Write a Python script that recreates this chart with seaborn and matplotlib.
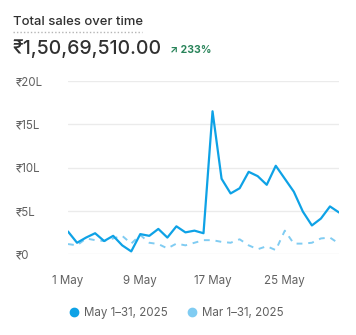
import numpy as np
import pandas as pd
import matplotlib
matplotlib.use("Agg")
import matplotlib.pyplot as plt
import seaborn as sns

# ---- data (values in lakh rupees) ----
days = list(range(1, 32))
current_sales = [2.6, 1.3, 1.9, 2.4, 1.5, 2.1, 1.0, 0.3, 2.3, 2.1,
                 2.9, 1.9, 3.2, 2.5, 2.7, 2.4, 16.5, 8.7, 7.0, 7.6,
                 9.5, 9.0, 8.0, 10.2, 8.7, 7.2, 4.9, 3.3, 4.1, 5.5, 4.8]
previous_sales = [1.15, 1.0, 1.8, 1.6, 1.5, 1.8, 2.1, 1.2, 2.2, 1.3,
                  1.15, 0.65, 1.2, 1.0, 1.3, 1.6, 1.6, 1.4, 1.3, 1.7,
                  1.0, 0.55, 0.9, 0.45, 2.7, 1.2, 1.2, 1.3, 1.8, 1.9, 1.2]
series_names = ["May 1\u201331, 2025", "Mar 1\u201331, 2025"]
y_ticks = [0, 5, 10, 15, 20]
y_tick_labels = ["\u20b90", "\u20b95L", "\u20b910L", "\u20b915L", "\u20b920L"]
x_ticks = [1, 9, 17, 25]
x_tick_labels = ["1 May", "9 May", "17 May", "25 May"]
title = "Total sales over time"
total_text = "\u20b91,50,69,510.00"
change_text = "\u2197 233%"

colors = ["#0ea2e6", "#80ccf2"]

df = pd.DataFrame({
    "day": days * 2,
    "sales": current_sales + previous_sales,
    "series": [series_names[0]] * len(days) + [series_names[1]] * len(days),
})

sns.set_style("white")
plt.rcParams["font.family"] = ["Inter", "DejaVu Sans"]

fig = plt.figure(figsize=(3.56, 3.35), dpi=100)
ax = fig.add_axes([68 / 356, 1 - 254 / 335, 271 / 356, 173 / 335])

sns.lineplot(data=df[df.series == series_names[1]], x="day", y="sales",
             color=colors[1], linewidth=1.4, linestyle=(0, (3, 3)), ax=ax,
             legend=False)
sns.lineplot(data=df[df.series == series_names[0]], x="day", y="sales",
             color=colors[0], linewidth=1.6, ax=ax, legend=False)

ax.set_xlim(1, 31)
ax.set_ylim(0, 20)
ax.set_yticks(y_ticks)
ax.set_yticklabels(y_tick_labels)
ax.set_xticks(x_ticks)
ax.set_xticklabels(x_tick_labels)
ax.set_xlabel("")
ax.set_ylabel("")
for s in ax.spines.values():
    s.set_visible(False)
ax.grid(axis="y", color="#ebebeb", linewidth=1)
ax.grid(axis="x", visible=False)
ax.set_axisbelow(True)
ax.tick_params(axis="both", length=0, colors="#616161", labelsize=8.3)
ax.tick_params(axis="y", pad=38)
for lbl in ax.get_yticklabels():
    lbl.set_horizontalalignment("left")
ax.tick_params(axis="x", pad=15)

# header
fig.text(13 / 356, 1 - 22 / 335, title, fontsize=9.4, fontweight="medium",
         color="#303030", va="center", ha="left")
fig.add_artist(plt.Line2D([13 / 356, 142 / 356], [1 - 32 / 335, 1 - 32 / 335],
                          color="#b5b5b5", linewidth=1, linestyle=(0, (1, 1.5))))
fig.text(12 / 356, 1 - 49 / 335, total_text, fontsize=14, fontweight="medium",
         color="#303030", va="center", ha="left")
fig.text(170 / 356, 1 - 50 / 335, change_text, fontsize=7.5, fontweight="bold",
         color="#29845a", va="center", ha="left")

# legend
handles = [plt.Line2D([], [], marker="o", linestyle="", markersize=6,
                      color=c) for c in colors]
leg = fig.legend(handles, series_names, loc="center", ncol=2,
                 bbox_to_anchor=(176 / 356, 1 - 313 / 335), frameon=False,
                 fontsize=8.3, handletextpad=0.35, columnspacing=1.6,
                 handlelength=1.0)
for t in leg.get_texts():
    t.set_color("#616161")

fig.savefig("out.png", dpi=100)
